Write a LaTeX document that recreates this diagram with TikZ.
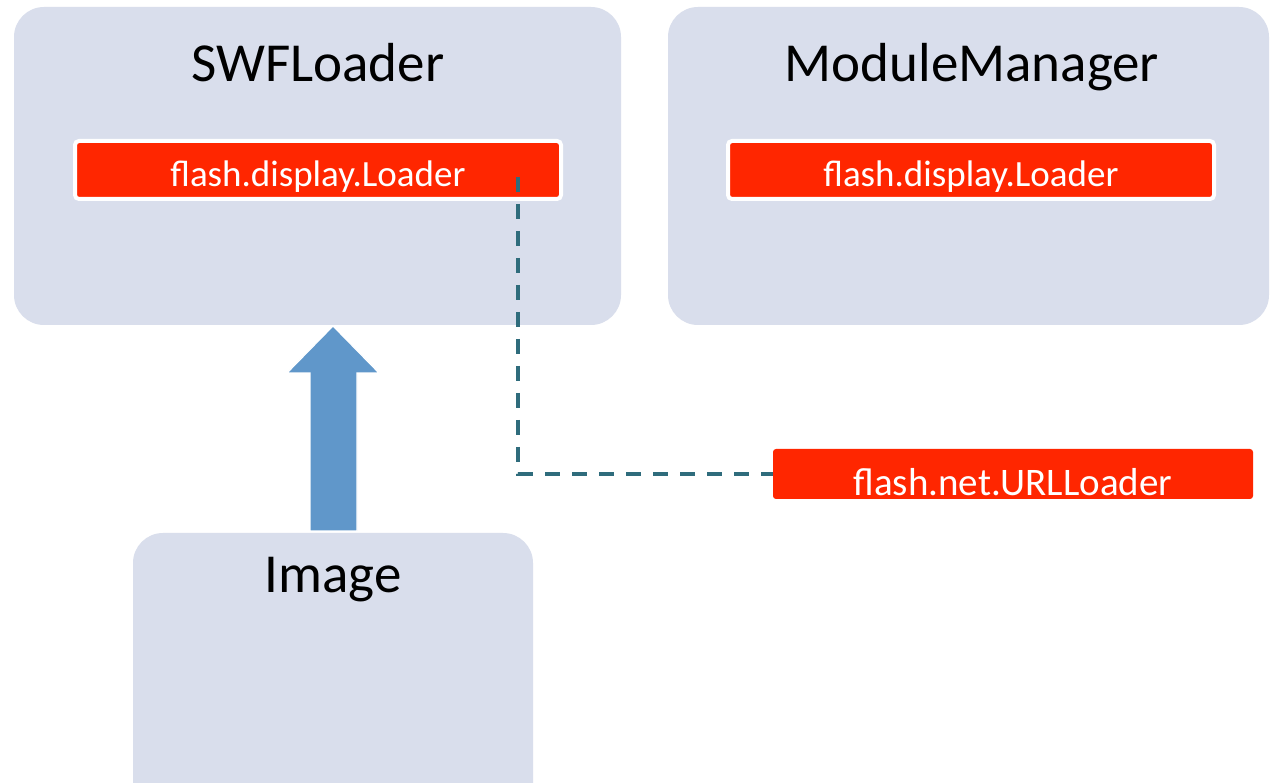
\documentclass[tikz,border=0pt]{standalone}
\usepackage{fontspec}
\setmainfont{Carlito}
\definecolor{panel}{HTML}{D9DEEC}
\definecolor{redbox}{HTML}{FF2600}
\definecolor{teal}{HTML}{2F6C7C}
\definecolor{arrowblue}{HTML}{6097CA}
\begin{document}
\begin{tikzpicture}[x=1pt,y=1pt,
  panelbox/.style={fill=panel, rounded corners=30pt},
  title/.style={anchor=base, font=\fontsize{55}{66}\selectfont, text=black, inner sep=0pt},
  classbox/.style={fill=redbox, draw=white, line width=4pt, rounded corners=4pt, minimum width=486pt, inner sep=0pt, text height=46pt, text depth=12pt, text=white, font=\fontsize{37}{44}\selectfont},
  urlbox/.style={fill=redbox, rounded corners=3pt, minimum width=480pt, inner sep=0pt, text height=47pt, text depth=3pt, text=white, font=\fontsize{39}{46}\selectfont},
  dashconn/.style={draw=teal, line width=3.5pt, dash pattern=on 15pt off 12pt},
  blockarrow/.style={fill=arrowblue, draw=white, line width=1.2pt}
]
\clip (0,0) rectangle (1270,-783);
\fill[white] (0,0) rectangle (1270,-783);
% panels
\fill[panelbox] (14,-7) rectangle (621,-325);
\fill[panelbox] (668,-7) rectangle (1269,-325);
\fill[panelbox] (133,-533) rectangle (533,-820);
% titles
\node[title] (swf) at (318,-82) {SWFLoader};
\node[title] (mm) at (972,-82) {ModuleManager};
\node[title] (img) at (333,-592) {Image};
% class boxes
\node[classbox] (fdl1) at (318,-170) {flash.display.Loader};
\node[classbox] (fdl2) at (971,-170) {flash.display.Loader};
\node[urlbox] (url) at (1013,-474) {flash.net.URLLoader};
% dashed connector
\coordinate (dstart) at (518,-177);
\draw[dashconn] (dstart) |- (url.west);
% block arrow from Image to SWFLoader
\coordinate (tip) at (333,-326);
\path[blockarrow] (310,-531) -- (310,-373) -- (287,-373) -- (tip) -- (379,-373) -- (357,-373) -- (357,-531) -- cycle;
\end{tikzpicture}
\end{document}
